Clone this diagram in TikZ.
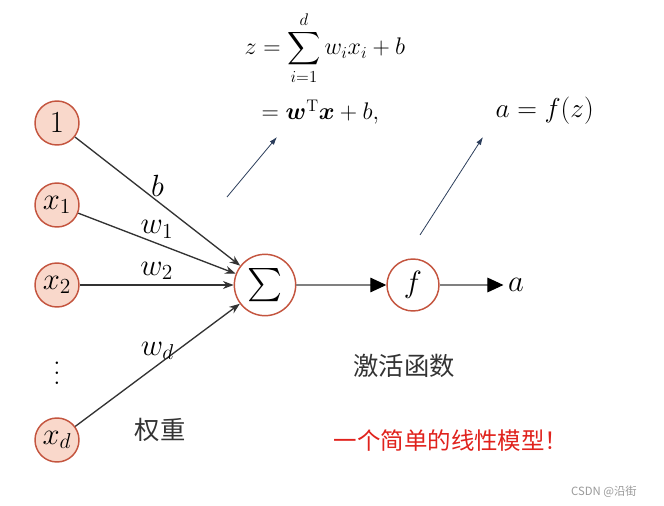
\RequirePackage{fix-cm}
\documentclass[tikz,border=0pt]{standalone}
\usepackage{amsmath}
\usepackage{bm}
\usepackage{fontspec}
\newfontfamily\cjk{Noto Sans CJK SC}
\usetikzlibrary{arrows.meta}
\definecolor{nodered}{HTML}{C4553F}
\definecolor{nodefill}{HTML}{F9D8CB}
\definecolor{navy}{HTML}{2B3D5B}
\definecolor{linkgray}{HTML}{333333}
\definecolor{notered}{HTML}{E0221C}
\newcommand{\bigvdots}{\vbox{\baselineskip=7.5pt \lineskiplimit=0pt \hbox{.}\hbox{.}\hbox{.}}}
\tikzset{
  font={\fontsize{23pt}{27}\selectfont},
  neuron/.style={circle, draw=nodered, line width=1.1pt, fill=nodefill, minimum size=33pt, inner sep=0pt},
  unit/.style={circle, draw=nodered, line width=1.1pt, fill=white, inner sep=0pt},
  weight/.style={-{Stealth[length=8pt,width=6pt]}, draw=linkgray, line width=1pt},
  flow/.style={-{Triangle[length=12pt,width=11pt,color=black]}, draw=gray, line width=0.8pt},
  pointer/.style={-{Latex[length=6pt,width=4pt]}, draw=navy, line width=0.6pt},
  formula/.style={anchor=base west, font={\fontsize{18pt}{22}\selectfont}},
  cjklabel/.style={font={\cjk\fontsize{19pt}{22}\selectfont}, text=black!80}}

\begin{document}
\begin{tikzpicture}[x=0.75pt,y=-0.75pt]
\useasboundingbox (0,0) rectangle (664,506);
% inputs
\node[neuron] (one) at (57,123) {$1$};
\node[neuron] (x1) at (57,205) {$x_1$};
\node[neuron] (x2) at (57,285) {$x_2$};
\node[inner sep=0pt] (dots) at (57,373) {\bigvdots};
\node[neuron] (xd) at (57,440) {$x_d$};
% sum and activation
\node[unit, minimum size=46pt] (sum) at (265,285) {$\sum$};
\node[unit, minimum size=39pt] (act) at (413,285) {$f$};
\node (out) at (516,285) {$a$};
% weights
\draw[weight] (one) -- node[pos=0.5, above] (lb) {$b$} (sum);
\draw[weight] (x1) -- node[pos=0.5, above] (lw1) {$w_1$} (sum);
\draw[weight] (x2) -- node[pos=0.5, above] (lw2) {$w_2$} (sum);
\draw[weight] (xd) -- node[pos=0.5, above] (lwd) {$w_d$} (sum);
\draw[flow] (sum) -- (act);
\draw[flow] (act) -- (out);
% formulas
\node[formula] (zsum) at (240,55) {$z = \displaystyle\sum_{i=1}^{d} w_i x_i + b$};
\node[formula] (zvec) at (257,120) {$= \bm{w}^{\mathrm{T}}\bm{x} + b,$};
\node[formula, font={\fontsize{20.5pt}{24}\selectfont}] (aeq) at (491,118) {$a = f(z)$};
\coordinate (p1) at (227,197);
\coordinate (q1) at (277,137);
\coordinate (p2) at (420,235);
\coordinate (q2) at (483,137);
\draw[pointer] (p1) -- (q1);
\draw[pointer] (p2) -- (q2);
% notes
\node[cjklabel] (wlabel) at (160,430) {权重};
\node[cjklabel] (alabel) at (404,366) {激活函数};
\node[font={\cjk\fontsize{17.6pt}{20}\selectfont}, text=notered] (model) at (451,441) {一个简单的线性模型！};
\node[font={\cjk\fontsize{8.5pt}{10}\selectfont}, text=gray!80] (mark) at (604,492) {CSDN @沿街};
\end{tikzpicture}
\end{document}
